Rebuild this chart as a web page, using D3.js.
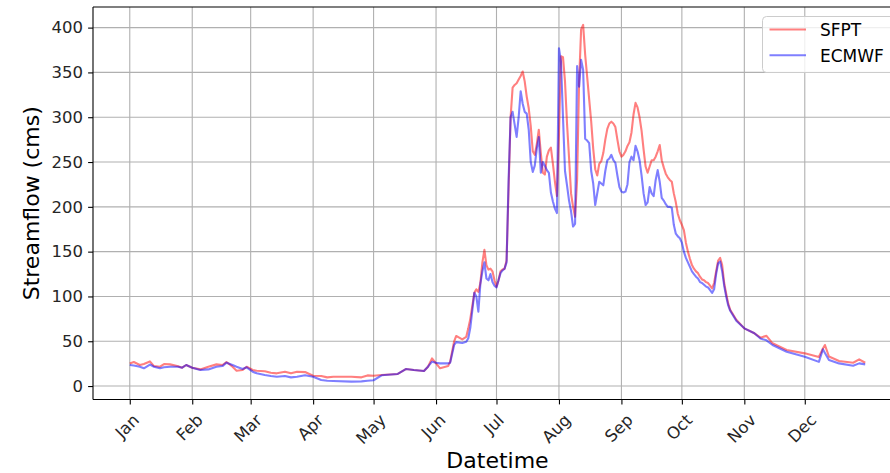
<!DOCTYPE html>
<html>
<head>
<meta charset="UTF-8">
<title>Streamflow SFPT vs ECMWF</title>
<script src="https://d3js.org/d3.v7.min.js"></script>
<style>
  body { margin: 0; background: #fff; }
  svg { display: block; font-family: "DejaVu Sans", sans-serif; }
</style>
</head>
<body>
<div id="chart"></div>
<script>
// day of year (0 = 1 Jan 2016)
var days = [0, 2, 5, 7, 10, 12, 15, 17, 20, 24, 26, 28, 31, 35, 39, 43, 46, 48, 51, 53, 56, 58,
  61, 63, 67, 70, 73, 77, 80, 83, 87, 91, 95, 98, 101, 110, 115, 118, 121, 125, 133, 137, 141,
  146, 148, 150, 152, 154, 158, 159, 161, 162, 165, 167, 168, 169, 171, 172, 173, 174, 175, 176,
  177, 178, 179, 180, 181, 182, 183, 184, 185, 186, 187, 188, 189, 190, 191, 192, 193, 194, 195,
  196, 197, 198, 199, 200, 201, 202, 203, 204, 205, 206, 207, 208, 209, 210, 211, 212, 213, 214,
  215, 216, 217, 218, 219, 220, 221, 222, 223, 224, 225, 226, 227, 228, 229, 230, 231, 232, 233,
  234, 235, 236, 237, 238, 239, 240, 241, 242, 243, 244, 245, 246, 247, 248, 249, 250, 251, 252,
  253, 254, 255, 256, 257, 258, 259, 260, 261, 262, 263, 264, 265, 266, 267, 268, 269, 270, 271,
  272, 273, 274, 275, 276, 277, 278, 279, 280, 281, 282, 283, 284, 285, 286, 287, 288, 289, 290,
  291, 292, 293, 294, 295, 296, 297, 298, 301, 305, 310, 313, 316, 319, 326, 335, 342, 344, 345,
  347, 352, 359, 362, 365];

var sfpt = [25.3, 26.8, 23.5, 24.6, 27.5, 22.3, 21.6, 24.6, 24.2, 22, 20.5, 23.5, 20.5, 18.6, 21.6,
  24.2, 23.5, 26.8, 21.6, 17.1, 17.9, 21.6, 17.9, 17.1, 16.5, 14.9, 14.2, 16, 14.2, 16, 15.6, 11.5,
  11.2, 9.7, 10.4, 10.4, 9.7, 11.9, 11.5, 12.3, 13.5, 19, 17.9, 16.8, 21.6, 30.9, 25.3, 19.8, 22.3,
  27.2, 50, 55.9, 52, 55, 64.4, 75, 104, 108, 105, 115, 138, 152, 135, 130, 131, 128, 118, 111, 118,
  128, 130, 131, 140, 220, 300, 333, 336, 338, 342, 346, 351, 340, 323, 310, 290, 262, 258, 270, 286,
  260, 238, 236, 256, 263, 266, 248, 228, 212, 280, 368, 367, 340, 293, 255, 215, 200, 189, 230, 340,
  398, 403, 370, 345, 320, 295, 265, 242, 235, 248, 251, 260, 275, 287, 293, 295, 293, 289, 275, 262,
  256, 258, 262, 268, 272, 283, 303, 316, 311, 300, 285, 264, 245, 238, 245, 252, 252, 256, 262, 269,
  252, 244, 237, 233, 230, 228, 215, 205, 192, 185, 180, 174, 160, 150, 142, 135, 131, 128, 126, 122,
  119, 118, 116, 115, 112, 109, 115, 128, 140, 143, 135, 115, 103, 92, 85, 74, 64.4, 58.9, 54, 56,
  47.7, 40.2, 36.5, 32.5, 42, 45.8, 33, 28, 26, 29.8, 26];

var ecmwf = [23.5, 22.9, 21.6, 19.8, 24, 21.6, 19.8, 20.9, 21.6, 21.6, 20.5, 23.5, 20.5, 17.9, 18.6,
  21.6, 22.3, 26.1, 23.5, 21.6, 19, 20.9, 16, 14.2, 12.3, 11.2, 10.4, 11.2, 9.7, 10.4, 12, 10.4, 6.7,
  5.9, 5.6, 5, 5.2, 5.9, 6.5, 12, 13.5, 19, 17.9, 16.8, 21.6, 27.2, 26, 25.3, 25.3, 26, 46, 49, 48,
  49.5, 53.3, 65, 104, 100, 83, 114, 128, 138, 120, 118, 125, 116, 112, 110, 118, 126, 129, 131, 138,
  230, 300, 306, 292, 278, 300, 329, 315, 306, 304, 286, 250, 239, 246, 265, 278, 238, 250, 246, 241,
  238, 216, 206, 198, 193, 377, 362, 300, 240, 224, 207, 195, 178, 181, 357, 334, 364, 353, 276, 274,
  271, 240, 226, 202, 215, 228, 226, 224, 240, 252, 254, 258, 252, 249, 235, 222, 217, 216, 217, 225,
  250, 256, 252, 268, 262, 252, 235, 215, 202, 205, 222, 215, 212, 230, 241, 228, 210, 207, 203, 200,
  200, 199, 180, 170, 167, 165, 160, 150, 143, 138, 133, 128, 125, 122, 120, 116, 115, 113, 111, 110,
  107, 104, 108, 125, 137, 139, 128, 112, 100, 90, 84, 73, 64.4, 58.9, 53, 51, 45.8, 38.3, 32.8, 27,
  41, 37, 29, 25.3, 22.7, 25.3, 24.2];

var yTicks = [0, 50, 100, 150, 200, 250, 300, 350, 400];
var monthTicks = d3.utcMonth.range(new Date(Date.UTC(2016, 0, 1)), new Date(Date.UTC(2017, 0, 1)));

var W = 890, H = 473;
var margin = {top: 7, right: -12, bottom: 73.5, left: 93};
var width = W - margin.left - margin.right,
    height = H - margin.top - margin.bottom;

var dayMs = 864e5;
var t0 = Date.UTC(2016, 0, 1);
function toDate(d) { return new Date(t0 + d * dayMs); }

var x = d3.scaleUtc()
  .domain([toDate(-18.25), toDate(365 + 18.25)])
  .range([0, width]);

var y = d3.scaleLinear()
  .domain([-15, 423])
  .range([height, 0]);

var svg = d3.select("#chart").append("svg")
  .attr("width", W)
  .attr("height", H);

var g = svg.append("g")
  .attr("transform", "translate(" + margin.left + "," + margin.top + ")");

// grid
g.append("g").selectAll("line").data(yTicks).enter().append("line")
  .attr("x1", 0).attr("x2", width)
  .attr("y1", function(d) { return y(d); }).attr("y2", function(d) { return y(d); })
  .attr("stroke", "#b0b0b0").attr("stroke-width", 1.1);

g.append("g").selectAll("line").data(monthTicks).enter().append("line")
  .attr("y1", 0).attr("y2", height)
  .attr("x1", function(d) { return x(d); }).attr("x2", function(d) { return x(d); })
  .attr("stroke", "#b0b0b0").attr("stroke-width", 1.1);

// series
function series(vals) {
  return days.map(function(d, i) { return {date: toDate(d), v: vals[i]}; });
}
var line = d3.line()
  .x(function(d) { return x(d.date); })
  .y(function(d) { return y(d.v); });

g.append("path").datum(series(sfpt))
  .attr("d", line).attr("fill", "none")
  .attr("stroke", "red").attr("stroke-opacity", 0.5).attr("stroke-width", 2.1)
  .attr("stroke-linejoin", "round");

g.append("path").datum(series(ecmwf))
  .attr("d", line).attr("fill", "none")
  .attr("stroke", "blue").attr("stroke-opacity", 0.5).attr("stroke-width", 2.1)
  .attr("stroke-linejoin", "round");

// axes
var yAxis = g.append("g")
  .call(d3.axisLeft(y).tickValues(yTicks).tickSize(4.9).tickPadding(5).tickSizeOuter(0));
yAxis.select(".domain").remove();
yAxis.selectAll("line").attr("stroke", "#000").attr("stroke-width", 1.1);
yAxis.selectAll("text").attr("font-size", "16.5px").attr("fill", "#262626")
  .attr("font-family", "DejaVu Sans");

var xAxis = g.append("g")
  .attr("transform", "translate(0," + height + ")")
  .call(d3.axisBottom(x).tickValues(monthTicks).tickFormat(d3.utcFormat("%b")).tickSize(4.9).tickSizeOuter(0));
xAxis.select(".domain").remove();
xAxis.selectAll("line").attr("stroke", "#000").attr("stroke-width", 1.1);
xAxis.selectAll("text")
  .attr("font-size", "16.5px").attr("fill", "#262626").attr("font-family", "DejaVu Sans")
  .attr("y", null).attr("dy", null)
  .attr("text-anchor", "middle")
  .attr("dominant-baseline", "central")
  .each(function() {
    var w = this.getComputedTextLength();
    var boxH = (w + 16.5 * 1.164) * Math.SQRT1_2;
    var cy = 11 + boxH / 2;
    d3.select(this).attr("transform", "translate(-3," + cy + ") rotate(-45)");
  });

// spines
g.append("line").attr("x1", 0).attr("x2", 0).attr("y1", 0).attr("y2", height)
  .attr("stroke", "#000").attr("stroke-width", 1.1);
g.append("line").attr("x1", 0).attr("x2", width).attr("y1", height).attr("y2", height)
  .attr("stroke", "#000").attr("stroke-width", 1.1);
g.append("line").attr("x1", 0).attr("x2", width).attr("y1", 0).attr("y2", 0)
  .attr("stroke", "#000").attr("stroke-width", 1.1);
g.append("line").attr("x1", width).attr("x2", width).attr("y1", 0).attr("y2", height)
  .attr("stroke", "#000").attr("stroke-width", 1.1);

// axis labels
svg.append("text")
  .attr("transform", "translate(39," + (margin.top + height / 2) + ") rotate(-90)")
  .attr("text-anchor", "middle")
  .attr("font-size", "22px").attr("fill", "#000")
  .text("Streamflow (cms)");

svg.append("text")
  .attr("x", margin.left + width / 2).attr("y", 468)
  .attr("text-anchor", "middle")
  .attr("font-size", "22px").attr("fill", "#000")
  .text("Datetime");

// legend
var legendNames = ["SFPT", "ECMWF"];
var legendColors = ["red", "blue"];
var lg = svg.append("g").attr("transform", "translate(762.5,16.5)");
lg.append("rect")
  .attr("width", 150).attr("height", 56).attr("rx", 4)
  .attr("fill", "#fff").attr("fill-opacity", 0.8)
  .attr("stroke", "#cccccc").attr("stroke-width", 1);
legendNames.forEach(function(name, i) {
  var ly = 13 + i * 25.7;
  lg.append("line")
    .attr("x1", 7).attr("x2", 43.5).attr("y1", ly).attr("y2", ly)
    .attr("stroke", legendColors[i]).attr("stroke-opacity", 0.5).attr("stroke-width", 2.1);
  lg.append("text")
    .attr("x", 57.5).attr("y", ly + 6.5)
    .attr("font-size", "17px").attr("fill", "#000")
    .text(name);
});
</script>
</body>
</html>
